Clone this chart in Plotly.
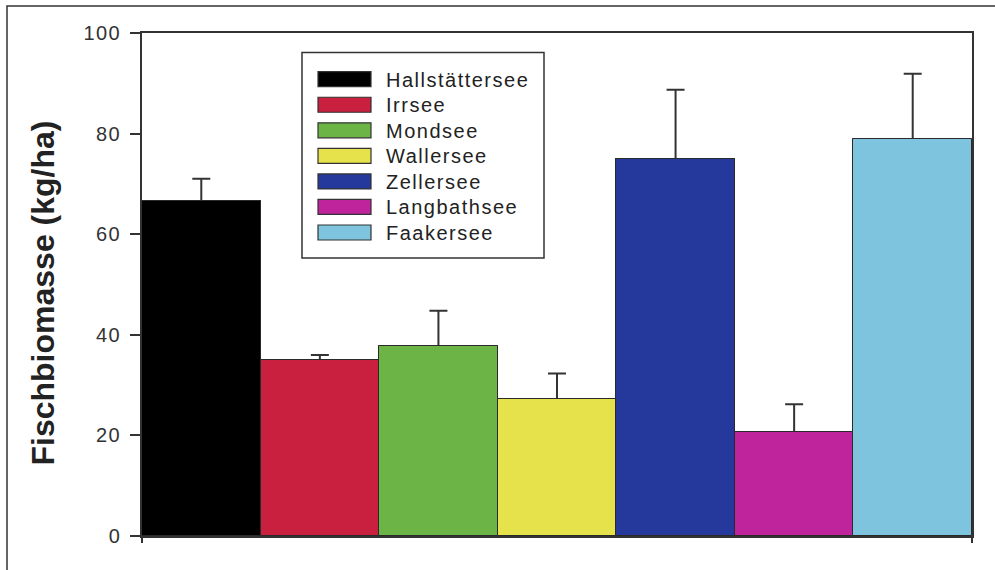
import plotly.graph_objects as go

# ---- data ----
lakes = ["Hallstättersee", "Irrsee", "Mondsee", "Wallersee", "Zellersee", "Langbathsee", "Faakersee"]
biomass = [66.7, 35.0, 37.8, 27.3, 74.9, 20.6, 78.9]
error_plus = [4.3, 1.0, 7.0, 5.0, 13.8, 5.6, 13.0]
colors = ["#000000", "#C8203E", "#6DB446", "#E6E24C", "#24399B", "#C0249C", "#7EC4DF"]
y_ticks = [0, 20, 40, 60, 80, 100]
y_title = "Fischbiomasse (kg/ha)"

W, H = 995, 570
L, R, T, B = 142, 23, 33, 34
PW, PH = W - L - R, H - T - B


def px(x):
    return (x - L) / PW


def py(y):
    return (H - B - y) / PH


LS = "letter-spacing:1.5px"
xpos = list(range(len(lakes)))
fig = go.Figure()
# bars carrying symmetric error bars; lower half hidden by the overlaid bars below
fig.add_trace(go.Bar(
    x=xpos, y=biomass,
    marker=dict(color=colors, line=dict(color="#2a2a2a", width=1)),
    error_y=dict(type="data", array=error_plus, symmetric=True,
                 color="#333333", thickness=2, width=9),
    showlegend=False, hoverinfo="skip",
))
fig.add_trace(go.Bar(
    x=xpos, y=biomass,
    marker=dict(color=colors, line=dict(color="#2a2a2a", width=1)),
    showlegend=False, hoverinfo="skip",
))

shapes = []
annotations = []
# custom legend box
shapes.append(dict(type="rect", xref="paper", yref="paper",
                   x0=px(302), x1=px(544), y0=py(258), y1=py(52.5),
                   line=dict(color="#333333", width=1.5), fillcolor="white", layer="above"))
for i, (name, c) in enumerate(zip(lakes, colors)):
    cy = 79.2 + 25.55 * i
    shapes.append(dict(type="rect", xref="paper", yref="paper",
                       x0=px(318), x1=px(371), y0=py(cy + 7.5), y1=py(cy - 7.5),
                       line=dict(color="#333333", width=1.2), fillcolor=c, layer="above"))
    annotations.append(dict(xref="paper", yref="paper", x=px(384), y=py(cy + 0.5),
                            xanchor="left", yanchor="middle", showarrow=False,
                            text=f'<span style="{LS}">{name}</span>',
                            font=dict(family="Liberation Sans, Arial", size=20, color="#222222")))

# outer image frame (left and top edges)
shapes.append(dict(type="rect", xref="paper", yref="paper",
                   x0=px(7), x1=px(1010), y0=py(590), y1=py(6),
                   line=dict(color="#333333", width=1.5), fillcolor="rgba(0,0,0,0)"))

annotations.append(dict(xref="paper", yref="paper", x=px(42), y=py(293.5),
                        xanchor="center", yanchor="middle", showarrow=False, textangle=-90,
                        text=f"<b>{y_title}</b>",
                        font=dict(family="Liberation Sans, Arial", size=32, color="#222222")))

fig.update_layout(
    width=W, height=H,
    margin=dict(l=L, r=R, t=T, b=B),
    paper_bgcolor="white", plot_bgcolor="white",
    barmode="overlay", bargap=0,
    shapes=shapes, annotations=annotations,
    xaxis=dict(range=[-0.5, len(lakes) - 0.5], tickvals=[-0.5, len(lakes) - 0.5],
               ticktext=["", ""], ticks="outside", ticklen=5, tickwidth=1.5, tickcolor="#333333",
               showline=True, linecolor="#333333", linewidth=1.5, mirror=True,
               showgrid=False, zeroline=False, fixedrange=True),
    yaxis=dict(range=[0, 100], tickvals=y_ticks,
               ticktext=[f'<span style="{LS}">{t}</span>' for t in y_ticks],
               ticks="outside", ticklen=10, tickwidth=1.5, tickcolor="#333333",
               ticklabelstandoff=5,
               tickfont=dict(family="Liberation Sans, Arial", size=20, color="#333333"),
               showline=True, linecolor="#333333", linewidth=1.5, mirror=True,
               showgrid=False, zeroline=False, fixedrange=True),
)

fig.write_html("out.html")
